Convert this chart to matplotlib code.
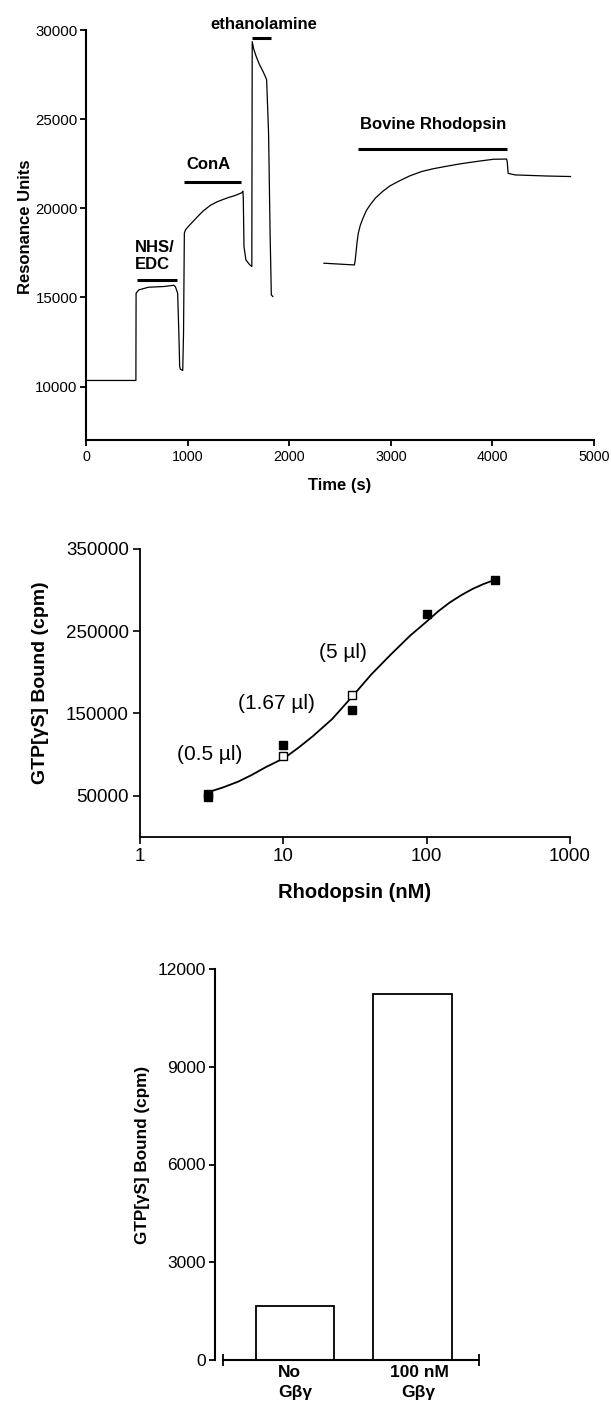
import matplotlib
matplotlib.use("Agg")
import matplotlib.pyplot as plt
import numpy as np

plt.rcParams['font.family'] = ['Liberation Sans', 'DejaVu Sans']

# ---------------- Panel A: sensorgram ----------------
seg1_time = [0, 491, 493, 520, 614, 768, 864, 880, 902, 914, 922, 929, 952, 960, 968, 979,
             1000, 1037, 1100, 1152, 1200, 1229, 1290, 1344, 1400, 1459, 1500, 1536, 1544,
             1548, 1555, 1574, 1613, 1632,
             1636, 1650, 1670, 1690, 1709, 1740, 1766, 1778, 1797, 1812, 1824, 1839]
seg1_ru = [10340, 10340, 15235, 15420, 15570, 15610, 15680, 15600, 15235, 12990, 11120, 10970,
           10900, 12990, 18600, 18786, 18930, 19160, 19540, 19840, 20060, 20180, 20360,
           20480, 20600, 20700, 20790, 20880, 20955,
           20600, 17850, 17100, 16820, 16730,
           29350, 28950, 28600, 28300, 28040, 27700, 27380, 27200, 24200,
           18600, 15140, 15050]
seg2_time = [2342, 2642, 2650, 2657, 2668, 2680, 2700, 2726, 2760, 2803, 2850, 2918, 2990,
             3072, 3180, 3302, 3420, 3533, 3650, 3763, 3890, 4013, 4140,
             4146, 4155, 4224, 4531, 4769]
seg2_ru = [16917, 16820, 17100, 17480, 18100, 18600, 19050, 19440, 19880, 20240, 20580,
           20935, 21250, 21500, 21800, 22060, 22220, 22340, 22460, 22560, 22660, 22750, 22760,
           22600, 21960, 21870, 21810, 21780]

inj_labels = ['NHS/\nEDC', 'ConA', 'ethanolamine', 'Bovine Rhodopsin']
inj_start = [499, 968, 1632, 2676]
inj_end = [891, 1528, 1816, 4147]
inj_bar_y = [15980, 21500, 29530, 23330]
inj_text_x = [480, 1204, 1747, 3414]
inj_text_y = [17330, 22470, 30318, 24710]
inj_text_ha = ['left', 'center', 'center', 'center']

# ---------------- Panel B: dose response ----------------
filled_x = [3, 3, 10, 30, 100, 300]
filled_y = [51600, 48000, 111000, 154500, 271500, 312200]
open_x = [10, 30]
open_y = [97600, 172000]
fit_x = [2.94, 3.8, 4.86, 6.0, 7.54, 10.2, 12.8, 16.0, 21.9, 30.3, 41.0, 56.1, 76.8, 100.7,
         120, 144, 175, 210, 250, 296]
fit_y = [53700, 60000, 67100, 75000, 84600, 95900, 108500, 122000, 143100, 170700, 197200,
         221500, 244700, 262200, 274000, 284600, 294000, 301600, 307500, 312200]
vol_labels = ['(0.5 \u00b5l)', '(1.67 \u00b5l)', '(5 \u00b5l)']
vol_x = [3.06, 8.95, 25.9]
vol_y = [99600, 161800, 224400]

# ---------------- Panel C: bars ----------------
bar_labels = ['No\nG\u03b2\u03b3', '100 nM\nG\u03b2\u03b3']
bar_values = [1667, 11224]

W, H = 611, 1406
fig = plt.figure(figsize=(W / 100, H / 100), dpi=100)


def rect(l, t, r, b):
    return [l / W, 1 - b / H, (r - l) / W, (b - t) / H]


# ---- Panel A ----
ax1 = fig.add_axes(rect(86, 30, 594, 440))
ax1.plot(seg1_time, seg1_ru, color='black', lw=0.9)
ax1.plot(seg2_time, seg2_ru, color='black', lw=0.9)
for s, e, y in zip(inj_start, inj_end, inj_bar_y):
    ax1.plot([s, e], [y, y], color='black', lw=2.2, solid_capstyle='butt', clip_on=False)
for lab, x, y, ha in zip(inj_labels, inj_text_x, inj_text_y, inj_text_ha):
    ax1.text(x, y, lab, ha=ha, va='center', fontsize=12, fontweight='bold',
             linespacing=1.15, clip_on=False)
ax1.set_xlim(0, 5000)
ax1.set_ylim(7000, 30000)
ax1.set_xticks([0, 1000, 2000, 3000, 4000, 5000])
ax1.set_yticks([10000, 15000, 20000, 25000, 30000])
for sp in ['top', 'right']:
    ax1.spines[sp].set_visible(False)
for sp in ['left', 'bottom']:
    ax1.spines[sp].set_linewidth(1.5)
ax1.tick_params(axis='y', labelsize=10.8, width=1.3, length=4, pad=2)
ax1.tick_params(axis='x', labelsize=10.3, width=1.3, length=4, pad=3)
fig.text(340 / W, 1 - 486 / H, 'Time (s)', ha='center', va='center', fontsize=12,
         fontweight='bold')
fig.text(25 / W, 1 - 227 / H, 'Resonance Units', ha='center', va='center', fontsize=12,
         fontweight='bold', rotation=90)

# ---- Panel B ----
ax2 = fig.add_axes(rect(140, 549, 570, 836.7))
ax2.set_xscale('log')
ax2.plot(fit_x, fit_y, color='black', lw=1.3)
ax2.plot(open_x, open_y, 's', ms=5.5, mfc='white', mec='black', mew=1.0, ls='none', zorder=3)
ax2.plot(filled_x, filled_y, 's', ms=5.5, mfc='black', mec='black', ls='none', zorder=4)
for lab, x, y in zip(vol_labels, vol_x, vol_y):
    ax2.text(x, y, lab, ha='center', va='center', fontsize=15)
ax2.set_xlim(1, 1000)
ax2.set_ylim(0, 350000)
ax2.set_xticks([1, 10, 100, 1000])
ax2.set_xticklabels(['1', '10', '100', '1000'])
ax2.xaxis.set_minor_locator(matplotlib.ticker.NullLocator())
ax2.set_yticks([50000, 150000, 250000, 350000])
ax2.set_yticklabels(['50000', '150000', '250000', '350000'])
for sp in ['top', 'right']:
    ax2.spines[sp].set_visible(False)
for sp in ['left', 'bottom']:
    ax2.spines[sp].set_linewidth(1.3)
ax2.tick_params(labelsize=13.5, width=1.2, length=5, pad=3)
fig.text(355 / W, 1 - 893 / H, 'Rhodopsin (nM)', ha='center', va='center', fontsize=14.5,
         fontweight='bold')
fig.text(41 / W, 1 - 683 / H, 'GTP[\u03b3S] Bound (cpm)', ha='center', va='center',
         fontsize=14, fontweight='bold', rotation=90)

# ---- Panel C ----
ax3 = fig.add_axes(rect(223, 969, 479, 1360))
xpos = np.arange(len(bar_values))
ax3.bar(xpos, bar_values, width=0.668, color='white', edgecolor='black', linewidth=1.3)
ax3.set_xlim(-0.613, 1.566)
ax3.set_ylim(0, 12000)
ax3.set_yticks([0, 3000, 6000, 9000, 12000])
ax3.set_xticks([-0.613, 1.566])
ax3.set_xticklabels(['', ''])
ax3.tick_params(axis='x', direction='inout', length=8, width=1.3)
ax3.tick_params(axis='y', labelsize=12.5, width=1.3, length=4.5, pad=2)
for sp in ['top', 'right']:
    ax3.spines[sp].set_visible(False)
ax3.spines['left'].set_position(('outward', 5.8))
for sp in ['left', 'bottom']:
    ax3.spines[sp].set_linewidth(1.5)
for x, lab in zip(xpos, bar_labels):
    first, second = lab.split('\n')
    ax3.annotate(first, xy=(x, 0), xycoords=('data', 'axes fraction'),
                 xytext=(-4 if x == 0 else 5, -9), textcoords='offset points',
                 ha='center', va='center', fontsize=12.5, fontweight='bold')
    ax3.annotate(second, xy=(x, 0), xycoords=('data', 'axes fraction'),
                 xytext=(0 if x == 0 else 4, -23.5), textcoords='offset points',
                 ha='center', va='center', fontsize=12.5, fontweight='bold')
fig.text(142 / W, 1 - 1155 / H, 'GTP[\u03b3S] Bound (cpm)', ha='center', va='center',
         fontsize=12.3, fontweight='bold', rotation=90)

fig.savefig('out.png', dpi=100, facecolor='white')
